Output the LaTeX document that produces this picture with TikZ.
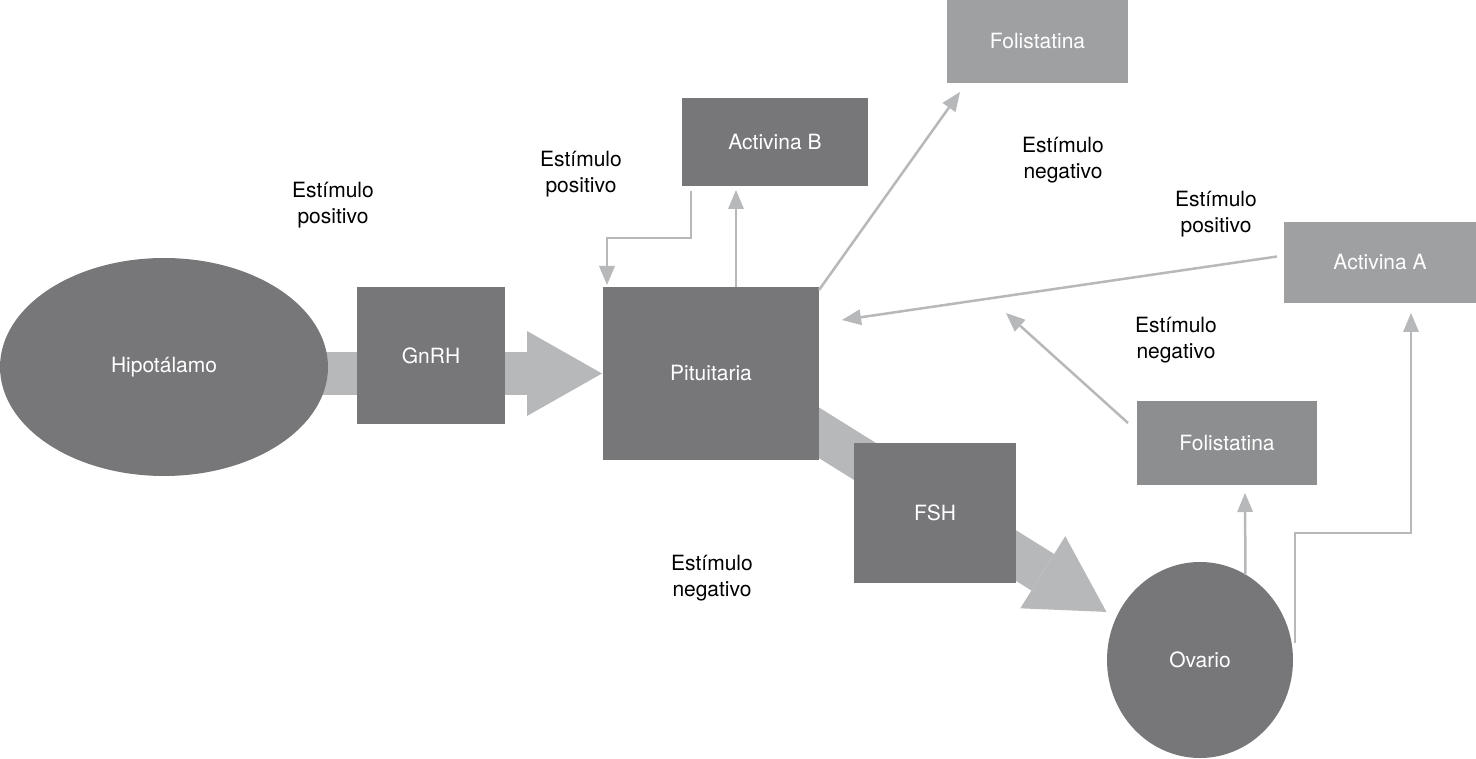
\documentclass[tikz,border=0pt]{standalone}
\usepackage{fontspec}
\setmainfont{TeX Gyre Heros}
\usetikzlibrary{arrows.meta,shapes.geometric,backgrounds}
\definecolor{grisoscuro}{HTML}{77777A}
\definecolor{grismedio}{HTML}{8D8E90}
\definecolor{grisclaro}{HTML}{9FA0A2}
\definecolor{grisflecha}{HTML}{B7B8BA}
\begin{document}
\begin{tikzpicture}[x=1pt, y=-1pt,
        organo/.style={ellipse, fill=grisoscuro, text=white, inner sep=0pt, outer sep=0pt, font=\fontsize{21}{26}\selectfont},
        caja/.style={rectangle, fill=grisoscuro, text=white, inner sep=0pt, outer sep=0pt, font=\fontsize{21}{26}\selectfont},
        cajaclara/.style={caja, fill=grisclaro},
        texto/.style={align=center, font=\fontsize{21}{26}\selectfont},
        gruesa/.style={grisflecha, line width=43pt, -{Triangle[length=75pt, width=85pt, line width=0pt]}},
        flecha/.style={grisflecha, line width=2.5pt, -{Triangle[length=19pt, width=16pt, line width=0pt]}}
    ]
    \useasboundingbox (0,0) rectangle (1476,759);

    \node (hipo) [organo, minimum width=328pt, minimum height=218pt] at (164,367) {Hipotálamo};
    \node (gnrh) [caja, minimum width=148pt, minimum height=137pt] at (431,355.5) {GnRH};
    \node (pit) [caja, minimum width=216pt, minimum height=173pt] at (711,373.5) {Pituitaria};
    \node (actB) [caja, minimum width=186pt, minimum height=88pt] at (775,142) {Activina B};
    \node (folT) [cajaclara, minimum width=181pt, minimum height=83pt] at (1037.5,41.5) {Folistatina};
    \node (actA) [cajaclara, minimum width=192pt, minimum height=81pt] at (1380,262.5) {Activina A};
    \node (folB) [caja, fill=grismedio, minimum width=180pt, minimum height=84pt] at (1227,443) {Folistatina};
    \node (fsh) [caja, minimum width=162pt, minimum height=140pt] at (935,513) {FSH};
    \node (ova) [organo, minimum width=186pt, minimum height=196pt] at (1200,660) {Ovario};

    \node (est1) [texto] at (333,205) {Estímulo\\positivo};
    \node (est2) [texto] at (581,174) {Estímulo\\positivo};
    \node (est3) [texto] at (1063,160) {Estímulo\\negativo};
    \node (est4) [texto] at (1216,214) {Estímulo\\positivo};
    \node (est5) [texto] at (1176,340) {Estímulo\\negativo};
    \node (est6) [texto] at (712,578) {Estímulo\\negativo};

    \coordinate (dianaFol) at (1006,313);

    \begin{scope}[on background layer]
        \draw [gruesa] (hipo.center |- pit.west) -- ([xshift=-1pt]pit.west);
        \draw [gruesa] ([yshift=8pt]pit.center) -- ([xshift=-12pt, yshift=1pt]ova.150);
    \end{scope}

    \draw [flecha] ([xshift=9pt, yshift=-5pt]actB.south west) -- ++(0,47) -| ([xshift=4pt, yshift=2pt]pit.north west);
    \draw [flecha] ([xshift=25pt]pit.north) -- ([xshift=25pt, yshift=-4pt]pit.north |- actB.south);
    \draw [flecha] ([yshift=-3pt]pit.north east) -- ([xshift=13pt, yshift=-9pt]folT.south west);
    \draw [flecha] ([xshift=-7pt, yshift=6pt]actA.west) -- ([xshift=23pt, yshift=-33pt]pit.north east);
    \draw [flecha] ([xshift=-9pt, yshift=-22pt]folB.north west) -- (dianaFol);
    \draw [flecha] (ova.62) -- ([xshift=18pt, yshift=-8pt]folB.south);
    \draw [flecha] ([xshift=2pt, yshift=17pt]ova.east) -- ++(0,-110) -| ([xshift=31pt, yshift=-10pt]actA.south);
\end{tikzpicture}
\end{document}
